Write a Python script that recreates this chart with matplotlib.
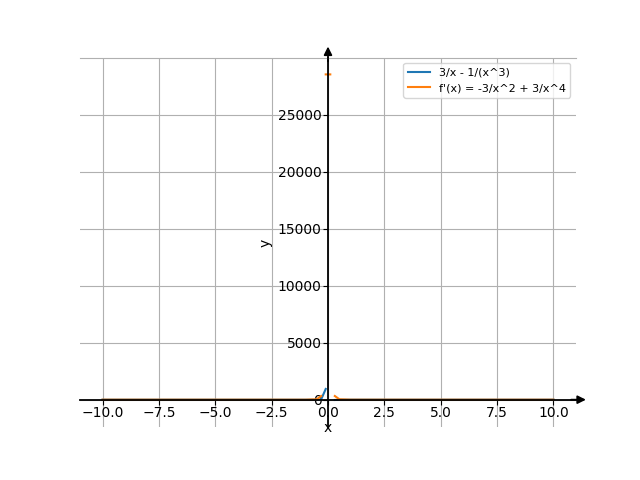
import numpy as np
import matplotlib
matplotlib.use("Agg")
import matplotlib.pyplot as plt

nan = np.nan
x_f = [-10.0, -7.5, -5.0, -2.5, -1.0, -0.5, -0.303, -0.101, nan, 0.303, 0.505, 1.0, 2.5, 5.0, 7.5, 10.0]
y_f = [-0.3, -0.4, -0.6, -1.1, -2.0, 2.0, 26.0, 940.0, nan, -26.0, -2.0, 2.0, 1.1, 0.6, 0.4, 0.3]

x_d = [-10.0, -7.5, -5.0, -2.5, -1.0, -0.5, -0.303, nan, -0.101, 0.101, nan, 0.303, 0.505, 1.0, 2.5, 5.0, 7.5, 10.0]
y_d = [-0.03, -0.05, -0.1, -0.4, 0.0, 34.0, 323.0, nan, 28524.0, 28524.0, nan, 323.0, 34.0, 0.0, -0.4, -0.1, -0.05, -0.03]

label_f = "3/x - 1/(x^3)"
label_d = "f'(x) = -3/x^2 + 3/x^4"

fig, ax = plt.subplots(figsize=(6.4, 4.8), dpi=100)
ax.plot(x_f, y_f, label=label_f)
ax.plot(x_d, y_d, label=label_d)

ax.set_xlim(-11, 11)
ax.set_ylim(-2413, 29997)

ax.spines['left'].set_position(('data', 0))
ax.spines['bottom'].set_position(('data', 0))
ax.spines['right'].set_visible(False)
ax.spines['top'].set_color('#b0b0b0')
ax.spines['top'].set_linewidth(0.8)
ax.spines['left'].set_linewidth(1.3)
ax.spines['bottom'].set_linewidth(1.3)
ax.tick_params(axis='both', pad=1)

ax.annotate('', xy=(1.02, 0), xycoords=('axes fraction', 'data'),
            xytext=(0.99, 0), textcoords=('axes fraction', 'data'),
            arrowprops=dict(arrowstyle='-|>', color='k', lw=1.3, mutation_scale=12,
                            shrinkA=0, shrinkB=0))
ax.annotate('', xy=(0, 1.03), xycoords=('data', 'axes fraction'),
            xytext=(0, 0.99), textcoords=('data', 'axes fraction'),
            arrowprops=dict(arrowstyle='-|>', color='k', lw=1.3, mutation_scale=12,
                            shrinkA=0, shrinkB=0))

ax.set_xlabel('x', labelpad=1)
ax.set_ylabel('y')
ax.grid(True)
ax.legend(loc='upper right', fontsize=8)

fig.savefig('out.png', dpi=100)
